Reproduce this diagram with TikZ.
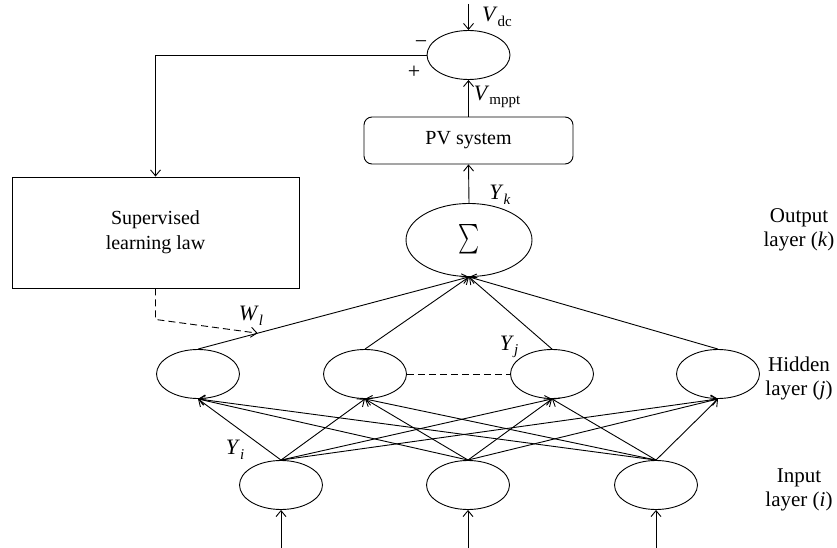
\documentclass[tikz,border=0pt]{standalone}
\usepackage{fontspec}
\setmainfont{Liberation Serif}
\usetikzlibrary{shapes.geometric,arrows.meta,calc}
\newcommand\lbl[2]{\textit{#1}\raisebox{-0.45ex}{\fontsize{15}{15}\selectfont #2}}
\begin{document}
\begin{tikzpicture}[x=1pt,y=-1pt,
  every node/.style={font=\fontsize{20}{25}\selectfont},
  neuron/.style={draw,ellipse,line width=0.9pt,minimum width=83pt,minimum height=49pt,inner sep=0pt},
  box/.style={draw,line width=0.9pt,align=center,inner sep=0pt},
  conn/.style={line width=0.9pt},
  arr/.style={conn,-{Straight Barb[length=6pt,width=10pt,line width=0.9pt]}},
  dsh/.style={dash pattern=on 7pt off 4pt},
  side/.style={align=center,font=\fontsize{21}{24}\selectfont},
  lab/.style={inner sep=0pt,font=\fontsize{22}{22}\selectfont}]
\path[use as bounding box] (0,0) rectangle (837,548);

% summing junction and PV
\node[neuron] (sum) at (468.5,55) {};
\node[box,rounded corners=8pt,minimum width=209pt,minimum height=47pt] (pv) at (468.5,140.5) {PV system};
\node[box,minimum width=287pt,minimum height=111pt] (sup) at (155.5,232.5) {Supervised\\learning law};

% layers
\node[neuron,minimum width=126pt,minimum height=73pt] (sig) at (469,240) {\resizebox*{21pt}{30pt}{$\textstyle\sum$}};
\node[neuron] (h1) at (198,374) {};
\node[neuron] (h2) at (365,374) {};
\node[neuron] (h3) at (552,374) {};
\node[neuron] (h4) at (718,374) {};
\node[neuron] (i1) at (281,485) {};
\node[neuron] (i2) at (468,485) {};
\node[neuron] (i3) at (656,485) {};

% free ends
\coordinate (vdc) at (468.5,4);
\coordinate (b1) at (281,548);
\coordinate (b2) at (468,548);
\coordinate (b3) at (656,548);
\coordinate (wl) at ($(h1.north)!0.22!(sig.south)$);

% connectors
\draw[arr] (vdc) -- (sum.north);
\draw[arr] (pv.north) -- (sum.south);
\draw[arr] (sig.north) -- (pv.south);
\draw[arr] (sum.west) -| (sup.north);
\draw[arr,dsh] (sup.south) -- ++(0,31) -- (wl);
\foreach \h in {h1,h2,h3,h4} \draw[arr] (\h.north) -- (sig.south);
\draw[conn,dsh] (h2.east) -- (h3.west);
\foreach \i in {i1,i2,i3} {
  \foreach \h in {h1,h2,h3,h4} \draw[arr] (\i.north) -- (\h.south);
}
\draw[arr] (b1) -- (i1.south);
\draw[arr] (b2) -- (i2.south);
\draw[arr] (b3) -- (i3.south);

% labels
\node[lab] (lvdc) at (497,17) {\lbl{V}{dc}};
\node[lab] (lvm) at (497,97) {\lbl{V}{mppt}};
\node[lab] (lyk) at (500,195) {\lbl{Y}{\textit{k}}};
\node[lab] (lwl) at (251,316) {\lbl{W}{\textit{l}}};
\node[lab] (lyj) at (509,347) {\lbl{Y}{\textit{j}}};
\node[lab] (lyi) at (235,450) {\lbl{Y}{\textit{i}}};
\node[lab] (lminus) at (421,45) {−};
\node[lab] (lplus) at (414,72) {+};

\node[side] (lout) at (799,230) {Output\\layer (\textit{k})};
\node[side] (lhid) at (799,378) {Hidden\\layer (\textit{j})};
\node[side] (lin) at (799,490) {Input\\layer (\textit{i})};
\end{tikzpicture}
\end{document}
